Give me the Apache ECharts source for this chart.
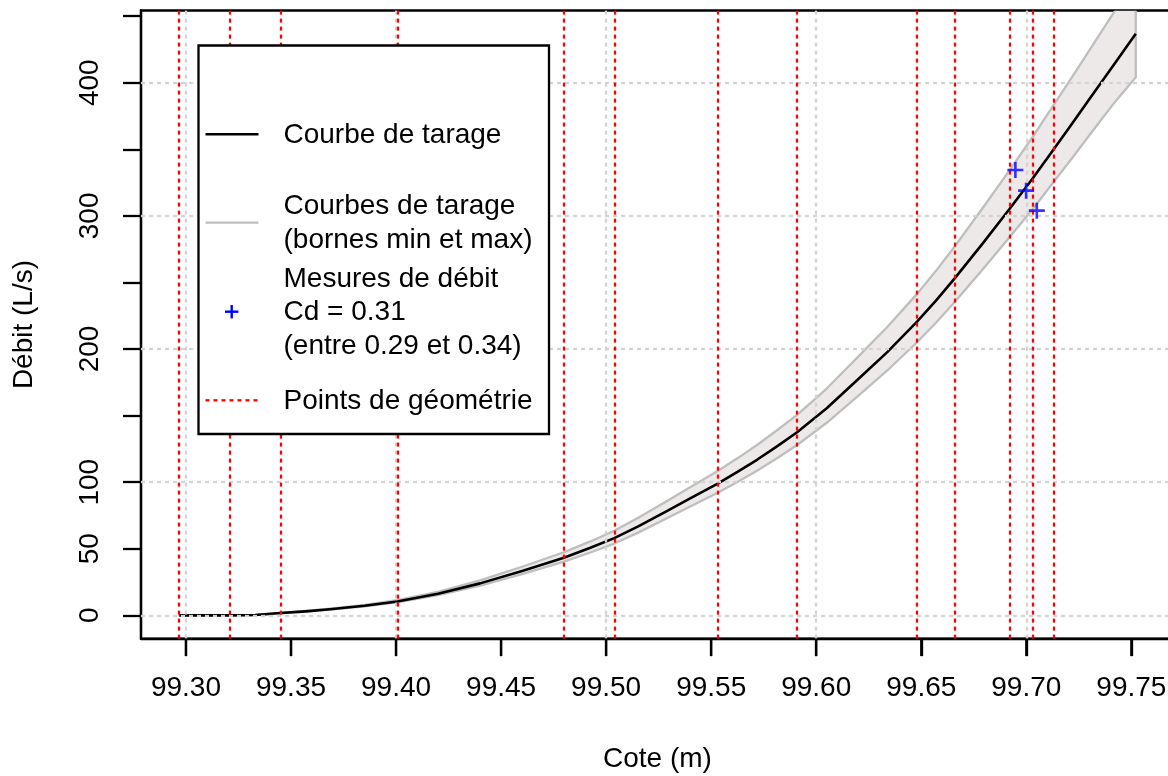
<!DOCTYPE html>
<html>
<head>
<meta charset="utf-8">
<script src="https://cdn.jsdelivr.net/npm/echarts@6/dist/echarts.min.js"></script>
<style>
html,body{margin:0;padding:0;background:#fff;}
#chart{width:1168px;height:776px;}
</style>
</head>
<body>
<div id="chart"></div>
<script>
// ---- data ----
const cote      = [99.2968, 99.3209, 99.3330, 99.3449, 99.3570, 99.3686, 99.3850, 99.4006, 99.4200, 99.4400, 99.4600, 99.4799, 99.4925, 99.5039, 99.5155, 99.5280, 99.5400, 99.5529, 99.5625, 99.5720, 99.5815, 99.5909, 99.6050, 99.6194, 99.6337, 99.6480, 99.6570, 99.6659, 99.6790, 99.6919, 99.7030, 99.7128, 99.7220, 99.7320, 99.7420, 99.7521];
const debit     = [0, 0, 0.3, 1.7, 3.0, 4.6, 7.2, 10.4, 16.2, 24.0, 33.3, 43.3, 50.7, 58.0, 67.0, 77.5, 87.8, 98.8, 107.7, 117.0, 127.1, 137.5, 155.5, 176.5, 197.5, 220.5, 236.3, 253.0, 278.8, 305.0, 328.0, 349.5, 369.7, 392.0, 414.2, 436.7];
const debitMin  = [0, 0, 0.28, 1.58, 2.79, 4.28, 6.70, 9.67, 15.1, 22.3, 31.0, 40.3, 47.2, 53.9, 62.3, 72.1, 81.7, 91.9, 100.2, 108.8, 118.2, 127.9, 144.6, 164.1, 183.7, 205.1, 219.7, 235.3, 259.3, 283.7, 305.0, 325.0, 343.8, 364.6, 385.2, 404.0];
const debitMax  = [0, 0, 0.33, 1.86, 3.29, 5.04, 7.88, 11.4, 17.7, 26.3, 36.5, 47.4, 55.5, 63.5, 73.4, 84.9, 96.1, 108.2, 117.9, 128.1, 139.2, 150.6, 170.3, 193.3, 216.3, 241.4, 258.7, 277.0, 305.3, 334.0, 359.2, 382.7, 404.8, 429.2, 453.5, 478.2];
const mesuresCote  = [99.6948, 99.6999, 99.7050];
const mesuresDebit = [334.4, 318.9, 303.9];
const geometrie = [99.2968, 99.3209, 99.3449, 99.4006, 99.4799, 99.5039, 99.5529, 99.5909, 99.6480, 99.6659, 99.6921, 99.7029, 99.7129];
const xTicks  = [99.30, 99.35, 99.40, 99.45, 99.50, 99.55, 99.60, 99.65, 99.70, 99.75];
const yTicks  = [0, 50, 100, 150, 200, 250, 300, 350, 400, 450];
const yLabels = [0, 50, 100, 200, 300, 400];
const xGrid   = [99.30, 99.40, 99.50, 99.60, 99.70];
const yGrid   = [0, 100, 200, 300, 400];
const xRange  = [99.2786, 99.7703];
const yRange  = [-17.47, 454.2];
const legendTexts = ["Courbe de tarage", "Courbes de tarage", "(bornes min et max)", "Mesures de débit", "Cd = 0.31", "(entre 0.29 et 0.34)", "Points de géométrie"];

const FONT = "'Liberation Sans', Arial, Helvetica, sans-serif";
const FS = 28;

const chart = echarts.init(document.getElementById('chart'), null, {renderer: 'canvas'});

const lw = 2.3;

function renderBand(params, api) {
  if (params.dataIndex !== 0) return null;
  const pts = [];
  for (let i = 0; i < cote.length; i++) pts.push(api.coord([cote[i], debitMax[i]]));
  for (let i = cote.length - 1; i >= 0; i--) pts.push(api.coord([cote[i], debitMin[i]]));
  const cs = params.coordSys;
  return {
    type: 'group',
    children: [{
      type: 'polygon',
      shape: {points: pts},
      style: {fill: '#EEE9E9', stroke: '#BEBEBE', lineWidth: lw, lineJoin: 'round'}
    }],
    clipPath: {type: 'rect', shape: {x: cs.x, y: cs.y, width: cs.width, height: cs.height}}
  };
}

// x-axis tick marks, positioned through the x scale, drawn below the plot box
function renderXTick(params, api) {
  const p = api.coord([api.value(0), yRange[0]]);
  return {
    type: 'line',
    shape: {x1: p[0], y1: p[1], x2: p[0], y2: p[1] + 17.5},
    style: {stroke: '#000', lineWidth: lw}
  };
}

const option = {
  animation: false,
  backgroundColor: '#ffffff',
  grid: {left: 141, right: -6, top: 10.5, bottom: 137.4, show: true, borderColor: '#000', borderWidth: 2.3,
         backgroundColor: 'transparent', containLabel: false, outerBoundsMode: 'none'},
  xAxis: {
    type: 'value', min: xRange[0], max: xRange[1],
    name: 'Cote (m)', nameLocation: 'middle', nameGap: 107,
    nameTextStyle: {fontFamily: FONT, fontSize: FS, color: '#000'},
    axisLine: {show: true, onZero: false, lineStyle: {color: '#000', width: lw}},
    splitLine: {show: false},
    axisTick: {show: true, inside: false, length: 17.5, customValues: xTicks, lineStyle: {color: '#000', width: lw}},
    axisLabel: {show: true, customValues: xTicks, margin: 36, fontFamily: FONT, fontSize: FS, color: '#000',
      formatter: v => Number(v).toFixed(2)}
  },
  yAxis: {
    type: 'value', min: yRange[0], max: yRange[1],
    name: 'Débit (L/s)', nameLocation: 'middle', nameGap: 103,
    nameTextStyle: {fontFamily: FONT, fontSize: FS, color: '#000'},
    axisLine: {show: true, onZero: false, lineStyle: {color: '#000', width: lw}},
    splitLine: {show: false},
    axisTick: {show: true, inside: false, length: 18, customValues: yTicks, lineStyle: {color: '#000', width: lw}},
    axisLabel: {show: true, customValues: yLabels, rotate: 90, margin: 37, fontFamily: FONT, fontSize: FS, color: '#000',
      formatter: v => String(Math.round(v))}
  },
  series: [
    { // grid lines
      type: 'line', data: [], silent: true, z: 1,
      markLine: {
        silent: true, symbol: ['none', 'none'], label: {show: false}, precision: 5,
        lineStyle: {color: '#D3D3D3', type: [4, 4], width: lw},
        emphasis: {disabled: true},
        data: xGrid.map(v => ({xAxis: v})).concat(yGrid.map(v => ({yAxis: v})))
      }
    },
    { // uncertainty band (min / max rating curves)
      type: 'custom', z: 2, silent: true, clip: true,
      data: [0],
      renderItem: renderBand
    },
    { // rating curve
      type: 'line', z: 4, silent: true, symbol: 'none',
      data: cote.map((x, i) => [x, debit[i]]),
      lineStyle: {color: '#000', width: 2.6, join: 'round'}
    },
    { // measurements
      type: 'scatter', z: 5, silent: true,
      symbol: 'path://M-1.3,-8H1.3V-1.3H8V1.3H1.3V8H-1.3V1.3H-8V-1.3H-1.3Z',
      symbolSize: 16,
      itemStyle: {color: '#0000FF'},
      data: mesuresCote.map((x, i) => [x, mesuresDebit[i]])
    },
    { // geometry points
      type: 'line', data: [], silent: true, z: 6,
      markLine: {
        silent: true, symbol: ['none', 'none'], label: {show: false}, precision: 5,
        lineStyle: {color: '#FF0000', type: [4, 4], width: lw},
        emphasis: {disabled: true},
        data: geometrie.map(v => ({xAxis: v}))
      }
    },
    { // x tick marks
      type: 'custom', z: 7, silent: true, clip: false,
      data: xTicks.map(v => [v]),
      encode: {x: 0},
      renderItem: renderXTick
    }
  ],
  graphic: [
    {type: 'rect', z: 100, shape: {x: 198.5, y: 45.5, width: 350.5, height: 388.5}, style: {fill: '#fff', stroke: '#000', lineWidth: lw}},
    {type: 'line', z: 101, shape: {x1: 205.5, y1: 134.3, x2: 258.5, y2: 134.3}, style: {stroke: '#000', lineWidth: 2.6}},
    {type: 'line', z: 101, shape: {x1: 205.5, y1: 222.7, x2: 258.5, y2: 222.7}, style: {stroke: '#BEBEBE', lineWidth: lw}},
    {type: 'line', z: 101, shape: {x1: 225, y1: 311.7, x2: 238.4, y2: 311.7}, style: {stroke: '#0000FF', lineWidth: 2.4}},
    {type: 'line', z: 101, shape: {x1: 231.7, y1: 305, x2: 231.7, y2: 318.4}, style: {stroke: '#0000FF', lineWidth: 2.4}},
    {type: 'line', z: 101, shape: {x1: 205.5, y1: 400.3, x2: 258.5, y2: 400.3}, style: {stroke: '#FF0000', lineWidth: lw, lineDash: [4, 4]}},
    ...[135.7, 206.7, 240.7, 279, 312.7, 346.7, 401].map((y, i) => ({
      type: 'text', z: 101, x: 283.5, y: y,
      style: {text: legendTexts[i], fontFamily: FONT, fontSize: FS, fill: '#000', verticalAlign: 'middle', align: 'left'}
    }))
  ]
};
chart.setOption(option);
</script>
</body>
</html>
